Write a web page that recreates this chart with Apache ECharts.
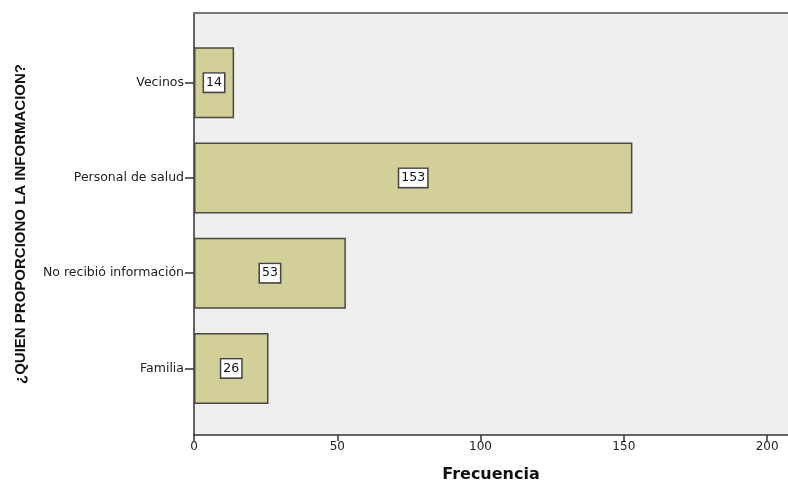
<!DOCTYPE html>
<html>
<head>
<meta charset="utf-8">
<script src="https://cdn.jsdelivr.net/npm/echarts@6/dist/echarts.min.js"></script>
<style>html,body{margin:0;padding:0;background:#fff;}#c{width:788px;height:488px;}</style>
</head>
<body>
<div id="c"></div>
<script>
const categories = ['Vecinos', 'Personal de salud', 'No recibió información', 'Familia'];
const frecuencias = [14, 153, 53, 26];
const xTicks = [0, 50, 100, 150, 200];
const yTitle = '¿QUIEN PROPORCIONO LA INFORMACION?';
const xTitle = 'Frecuencia';

const xMax = 207.3;
const chart = echarts.init(document.getElementById('c'), null, {renderer: 'canvas'});
chart.setOption({
  animation: false,
  grid: [
    {left: 194, top: 13, right: 0, height: 424, show: true, backgroundColor: '#efefef', borderWidth: 0},
    {left: 194, top: 35, right: 0, height: 381}
  ],
  xAxis: [
    {
      type: 'value', gridIndex: 0, min: 0, max: xMax, interval: 50,
      splitLine: {show: false},
      axisLine: {show: true, lineStyle: {color: '#333', width: 1.5}},
      axisTick: {show: true, length: 6, lineStyle: {color: '#333', width: 1.5}},
      axisLabel: {show: true, showMaxLabel: false, margin: 6, color: '#222', fontFamily: 'DejaVu Sans', fontSize: 12,
        formatter: v => xTicks.includes(v) ? String(v) : ''},
      name: xTitle, nameLocation: 'middle', nameGap: 32,
      nameTextStyle: {fontFamily: 'DejaVu Sans', fontWeight: 'bold', fontSize: 16, color: '#111'}
    },
    {type: 'value', gridIndex: 1, min: 0, max: xMax, show: false, splitLine: {show: false}},
    {
      type: 'value', gridIndex: 0, min: 0, max: xMax, position: 'top',
      axisLine: {show: true, lineStyle: {color: '#777', width: 2}},
      axisTick: {show: false}, axisLabel: {show: false}, splitLine: {show: false}
    }
  ],
  yAxis: [
    {
      type: 'value', gridIndex: 0, min: 0, max: 1,
      axisLine: {show: true, lineStyle: {color: '#333', width: 1.5}},
      axisTick: {show: false}, axisLabel: {show: false}, splitLine: {show: false},
      name: yTitle, nameLocation: 'middle', nameRotate: 90, nameGap: 166,
      nameTextStyle: {fontFamily: 'Liberation Sans', fontWeight: 'bold', fontSize: 15, color: '#111'}
    },
    {
      type: 'category', gridIndex: 1, data: categories, inverse: true,
      axisLine: {show: false},
      axisTick: {show: true, alignWithLabel: true, length: 9, lineStyle: {color: '#333', width: 1.5}},
      axisLabel: {margin: 10, color: '#222', fontFamily: 'DejaVu Sans', fontSize: 12.5},
      splitLine: {show: false}
    }
  ],
  series: [{
    type: 'bar', xAxisIndex: 1, yAxisIndex: 1, data: frecuencias,
    barWidth: 71,
    itemStyle: {color: '#d3cf98', borderColor: '#4a4a44', borderWidth: 1.5},
    label: {
      show: true, position: 'inside', color: '#111', fontFamily: 'DejaVu Sans', fontSize: 12.5,
      backgroundColor: '#fff', borderColor: '#444', borderWidth: 1.5, padding: [3, 2, 2, 2]
    }
  }]
});
</script>
</body>
</html>
